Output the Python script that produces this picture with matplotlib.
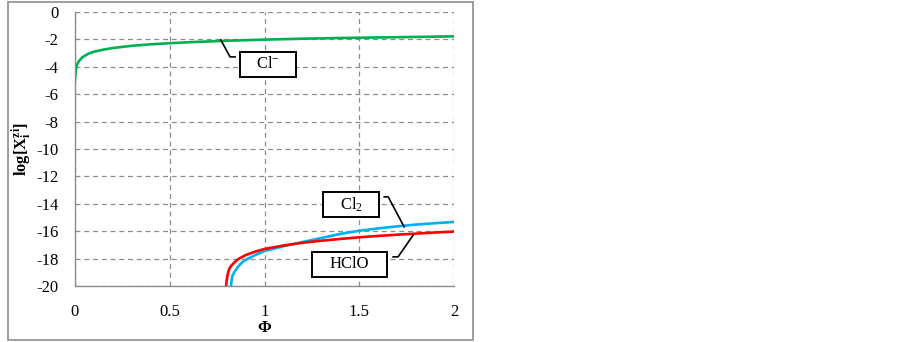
import matplotlib
matplotlib.use('Agg')
import matplotlib.pyplot as plt
from matplotlib.patches import Rectangle

plt.rcParams['font.family'] = ['Liberation Serif', 'DejaVu Serif']
plt.rcParams['mathtext.fontset'] = 'custom'
plt.rcParams['mathtext.rm'] = 'Liberation Serif'
plt.rcParams['mathtext.it'] = 'Liberation Serif:italic'
plt.rcParams['mathtext.bf'] = 'Liberation Serif:bold'
plt.rcParams['axes.unicode_minus'] = False

# Cl- curve
phi_cl = [0, 0.005, 0.01, 0.02, 0.04, 0.07, 0.1, 0.15, 0.2, 0.3, 0.4, 0.5,
          0.6, 0.8, 1.0, 1.2, 1.4, 1.6, 1.8, 2.0]
log_cl = [-5.0, -4.2, -3.9, -3.6, -3.3, -3.05, -2.9, -2.75, -2.63, -2.47, -2.36, -2.28,
          -2.21, -2.1, -2.02, -1.95, -1.9, -1.86, -1.82, -1.78]

# HClO curve
phi_hclo = [0.797, 0.80, 0.805, 0.81, 0.82, 0.84, 0.86, 0.9, 0.95, 1.0, 1.1, 1.2,
            1.3, 1.4, 1.5, 1.6, 1.7, 1.8, 1.9, 2.0]
log_hclo = [-20, -19.6, -19.2, -18.9, -18.6, -18.3, -18.05, -17.75, -17.5, -17.3, -17.05, -16.85,
            -16.7, -16.57, -16.45, -16.35, -16.26, -16.18, -16.1, -16.03]

# Cl2 curve
phi_cl2 = [0.823, 0.826, 0.83, 0.84, 0.86, 0.88, 0.9, 0.95, 1.0, 1.1, 1.2, 1.3,
           1.4, 1.5, 1.6, 1.7, 1.8, 1.9, 2.0]
log_cl2 = [-20, -19.6, -19.3, -19.0, -18.6, -18.3, -18.1, -17.75, -17.45, -17.1, -16.8, -16.5,
           -16.2, -15.97, -15.8, -15.65, -15.52, -15.42, -15.33]

x_ticks = [0, 0.5, 1, 1.5, 2]
x_ticklabels = ['0', '0.5', '1', '1.5', '2']
y_ticks = list(range(-20, 1, 2))

# label boxes: text, (x0, x1), (y0, y1), leader line points
labels = [
    (r'Cl$^{\mathrm{-}}$', (0.871, 1.166), (-4.74, -2.92), [0.769, 0.818, 0.844], [-2.04, -3.28, -3.28]),
    (r'Cl$_2$', (1.309, 1.604), (-14.96, -13.14), [1.631, 1.652, 1.736], [-13.5, -13.5, -15.69]),
    ('HClO', (1.251, 1.646), (-19.34, -17.52), [1.678, 1.704, 1.784], [-17.88, -17.88, -16.28]),
]

fig = plt.figure(figsize=(9.03, 3.42), dpi=100)
ax = fig.add_axes([0.083, 0.164, 0.42, 0.801])

ax.plot(phi_cl, log_cl, color='#00B050', lw=1.9)
ax.plot(phi_cl2, log_cl2, color='#00B0F0', lw=1.9)
ax.plot(phi_hclo, log_hclo, color='#FF0000', lw=1.9)

ax.set_xlim(0, 2)
ax.set_ylim(-20, 0)
ax.set_xticks(x_ticks)
ax.set_xticklabels(x_ticklabels)
ax.set_yticks(y_ticks)
ax.tick_params(length=0, labelsize=12)
ax.tick_params(axis='y', pad=12)
ax.tick_params(axis='x', pad=13)
ax.grid(True, color='#8c8c8c', linestyle=(0, (4, 3)), lw=0.9)
ax.set_axisbelow(True)
for s in ['top', 'right']:
    ax.spines[s].set_visible(False)
for s in ['left', 'bottom']:
    ax.spines[s].set_color('#8c8c8c')
    ax.spines[s].set_linewidth(1.0)

ax.set_xlabel(r'$\mathbf{\Phi}$', fontsize=12, labelpad=0)
ax.set_ylabel(r'$\mathbf{log[X}_{\mathbf{i}}^{\mathbf{zi}}\mathbf{]}$', fontsize=12, va='center')
ax.yaxis.set_label_coords(-0.14, 0.5)

for txt, (x0, x1), (y0, y1), lx, ly in labels:
    ax.add_patch(Rectangle((x0, y0), x1 - x0, y1 - y0, fc='white', ec='black', lw=1.4, zorder=5))
    ax.text((x0 + x1) / 2, (y0 + y1) / 2, txt, ha='center', va='center', fontsize=12, zorder=6)
    ax.plot(lx, ly, color='black', lw=1.2, zorder=4)

fig.patches.append(Rectangle((8 / 903, 2 / 342), 465 / 903, 338 / 342, transform=fig.transFigure,
                             fill=False, ec='#8c8c8c', lw=1.2))

fig.savefig('out.png', dpi=100)
